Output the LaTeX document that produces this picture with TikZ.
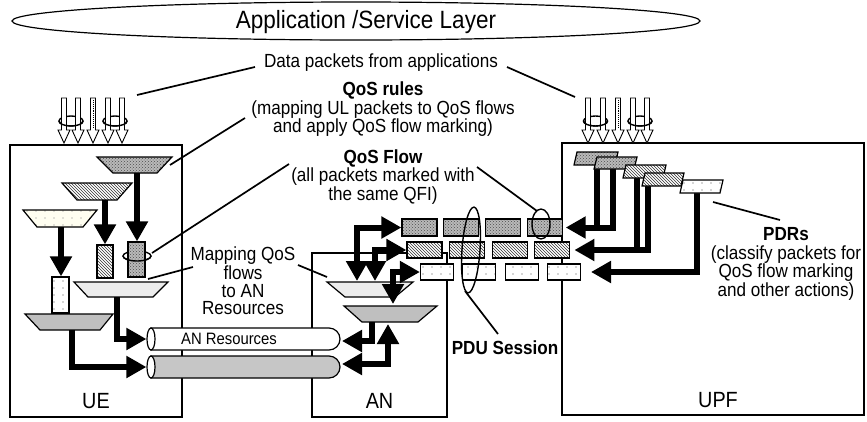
\documentclass[tikz,border=0pt]{standalone}
\usepackage{fontspec}
\setmainfont{Liberation Sans}[FakeStretch=0.9]
\usetikzlibrary{arrows.meta,patterns,shapes.geometric,positioning}
\pgfdeclarepatternformonly{sparse dots}{\pgfqpoint{-1pt}{-1pt}}{\pgfqpoint{1pt}{1pt}}{\pgfqpoint{9pt}{7pt}}{%
  \pgfpathcircle{\pgfqpoint{0pt}{0pt}}{0.7pt}\pgfusepath{fill}}
\tikzset{
  Fat/.tip={Triangle[length=20pt,width=21pt]},
  fat/.style={line width=6pt, -Fat},
  fatboth/.style={line width=6pt, Fat-Fat},
  elem/.style={draw, line width=2pt, inner sep=0pt},
  leader/.style={line width=1.7pt},
  ring/.style={line width=1.4pt},
  hollow/.style={draw, line width=0.9pt, fill=white},
  darkpat/.style={draw, line width=1.2pt, preaction={fill=gray!55}, pattern=crosshatch dots, pattern color=black!70},
  hatchpat/.style={draw, line width=1.2pt, preaction={fill=white}, pattern=north west lines, pattern color=black!80},
  dotpat/.style={draw, line width=1.2pt, preaction={fill=white}, pattern=sparse dots, pattern color=black!70},
  creampat/.style={draw, line width=1.2pt, preaction={fill=yellow!6}, pattern=sparse dots, pattern color=black!50},
  lightpat/.style={draw, line width=1.2pt, fill=gray!15},
  greypat/.style={draw, line width=1.2pt, fill=gray!50},
  packet/.style={inner sep=0pt, minimum width=35pt, minimum height=17pt},
  note/.style={align=center, inner sep=0pt, font=\fontsize{19}{18.5}\selectfont},
  boxname/.style={inner sep=0pt, font=\fontsize{22}{24}\selectfont}
}
\begin{document}
\begin{tikzpicture}[x=1pt, y=-1pt]
  \useasboundingbox (0,0) rectangle (867,421);
  % application layer
  \node[ellipse, draw, line width=1.2pt, minimum width=688pt, minimum height=38pt, inner sep=0pt] (layer) at (356,21) {};
  \node[inner sep=0pt, font=\fontsize{25}{25}\selectfont] (layername) at (366,22) {Application /Service Layer};

  % texts
  \node[note] (data) at (381,63) {Data packets from applications};
  \node[note] (rules) at (383,109.5) {\textbf{QoS rules}\\(mapping UL packets to QoS flows\\and apply QoS flow marking)};
  \node[note] (flow) at (383,177) {\textbf{QoS Flow}\\(all packets marked with\\the same QFI)};
  \node[note, font=\fontsize{19}{17.5}\selectfont] (mapping) at (243,281) {Mapping QoS\\flows\\to AN\\Resources};
  \node[note] (pdrs) at (786,264) {\textbf{PDRs}\\(classify packets for\\QoS flow marking\\and other actions)};
  \node[note, font=\bfseries\fontsize{19}{19}\selectfont] (pdu) at (505,348) {PDU Session};

  % network elements
  \node[elem, minimum width=172pt, minimum height=272pt] (ue) at (96,281) {};
  \node[elem, minimum width=135pt, minimum height=164pt] (an) at (379.5,335) {};
  \node[elem, minimum width=302pt, minimum height=272pt] (upf) at (713,279) {};
  \node[boxname, above=9pt of ue.south] (uename) {UE};
  \node[boxname, above=9pt of an.south] (anname) {AN};
  \node[boxname, above=8pt of upf.south, xshift=5pt] (upfname) {UPF};

  % UE: QoS rules
  \draw[darkpat] (97,157) -- (172,157) -- (157,173) -- (113,173) -- cycle;
  \draw[hatchpat] (62,183) -- (132,183) -- (117,200) -- (77,200) -- cycle;
  \draw[creampat] (23,210) -- (97,210) -- (83,227) -- (37,227) -- cycle;
  \coordinate (t1b) at (137,173);
  \coordinate (t2b) at (105,200);
  \coordinate (t3b) at (61,227);
  \coordinate (t1r) at (170,165);
  \draw[ring] (137,256) ellipse[x radius=14pt, y radius=5pt];
  \node[packet, darkpat, minimum width=17pt, minimum height=35pt] (ued) at (136.5,259.5) {};
  \node[packet, hatchpat, minimum width=16pt, minimum height=33pt] (ueh) at (105,261.5) {};
  \node[packet, dotpat, minimum width=17pt, minimum height=36pt] (uep) at (60.5,295) {};
  \draw[ring] (123,256) arc[start angle=180, end angle=360, x radius=14pt, y radius=5pt];
  \coordinate (ueloop) at (152,253);
  \draw[fat] (t1b) -- (t1b |- ued.north);
  \draw[fat] (t2b) -- (t2b |- ueh.north);
  \draw[fat] (t3b) -- (t3b |- uep.north);
  % UE: mapping to AN resources
  \draw[lightpat] (74,282) -- (168,282) -- (153,297) -- (88,297) -- cycle;
  \draw[greypat] (25,314) -- (113,314) -- (100,330) -- (40,330) -- cycle;
  \coordinate (mapb) at (117,297);
  \coordinate (mixb) at (72,330);
  \coordinate (mapr) at (148,279);

  % AN resources
  \draw[line width=1.2pt, fill=white] (151,328) -- (329,328) arc[start angle=90, end angle=-90, radius=11pt] -- (151,350) -- cycle;
  \draw[line width=1.2pt, fill=gray!45] (151,356) -- (329,356) arc[start angle=90, end angle=-90, radius=11pt] -- (151,378) -- cycle;
  \node[ellipse, draw, line width=1.2pt, fill=white, minimum width=8pt, minimum height=22pt, inner sep=0pt] (res1) at (151,339) {};
  \node[ellipse, draw, line width=1.2pt, fill=white, minimum width=8pt, minimum height=22pt, inner sep=0pt] (res2) at (151,367) {};
  \node[inner sep=0pt, font=\fontsize{16.5}{17}\selectfont] (anres) at (229,339) {AN Resources};
  \coordinate (res1e) at (342,341);
  \coordinate (res2e) at (342,364);
  \draw[fat] (mapb) |- (res1.west);
  \draw[fat] (mixb) |- (res2.west);

  % AN: mapping
  \draw[greypat] (344,306) -- (437,306) -- (418,322) -- (362,322) -- cycle;
  \draw[lightpat] (327,282) -- (413,282) -- (395,297) -- (345,297) -- cycle;
  \coordinate (m1) at (357,281);
  \coordinate (m2) at (375,281);
  \coordinate (m3) at (393,304);
  \coordinate (x1) at (372,322);
  \coordinate (x2) at (388,324);
  \coordinate (anmap) at (327,277);

  % PDU session: three QoS flows
  \foreach \i in {1,...,4}
    \node[packet, darkpat] (dl1-\i) at ({419.5+41.7*(\i-1)},227.5) {};
  \foreach \i in {1,...,4}
    \node[packet, hatchpat, minimum height=16pt] (dl2-\i) at ({424.5+42.6*(\i-1)},250) {};
  \foreach \i in {1,...,4}
    \node[packet, dotpat, minimum width=33pt, minimum height=16pt] (dl3-\i) at ({437+42.3*(\i-1)},272) {};

  \draw[fatboth] (m1) |- (dl1-1.west);
  \draw[fatboth] (m2) |- (dl2-1.west);
  \draw[fatboth] (m3) |- (dl3-1.west);
  \draw[fat] (x1) |- (res1e);
  \draw[fatboth] (x2) |- (res2e);

  % UPF: PDRs
  \coordinate (pdr1b) at (597,165);
  \coordinate (pdr2b) at (613,169);
  \coordinate (pdr3b) at (637,178);
  \coordinate (pdr4b) at (648,186);
  \coordinate (pdr5b) at (697,193);
  \draw[line width=6pt] (pdr1b) -- ([yshift=-3pt]pdr1b |- dl1-4.east);
  \draw[fat] (pdr2b) |- ([xshift=3pt]dl1-4.east);
  \draw[line width=6pt] (pdr3b) -- ([yshift=-3pt]pdr3b |- dl2-4.east);
  \draw[fat] (pdr4b) |- ([xshift=4pt]dl2-4.east);
  \draw[fat] (pdr5b) |- ([xshift=10pt]dl3-4.east);
  \draw[darkpat] (577,152) -- (618,152) -- (615,165) -- (574,165) -- cycle;
  \draw[darkpat] (597,157) -- (637,157) -- (634,169) -- (594,169) -- cycle;
  \draw[hatchpat] (626,165) -- (666,165) -- (663,178) -- (623,178) -- cycle;
  \draw[hatchpat] (645,173) -- (684,173) -- (681,186) -- (642,186) -- cycle;
  \draw[dotpat] (683,180) -- (723,180) -- (720,193) -- (680,193) -- cycle;
  \coordinate (pdr5l) at (713,202);

  % loops
  \coordinate (qfloop) at (541,224);
  \coordinate (pduloop) at (471,250);
  \coordinate (pdubot) at (465,291);
  \draw[ring] (qfloop) ellipse[x radius=9pt, y radius=15pt];
  \draw[ring, rotate around={-4:(pduloop)}] (pduloop) ellipse[x radius=9pt, y radius=43pt];

  % packets from applications
  \foreach \c in {71,115,595.5,640}
    \draw[ring] (\c,121) ellipse[x radius=12pt, y radius=5pt];
  \foreach \x in {64,78,93,108,122,588,603,618,633,647}
    \draw[hollow] ({\x-2.5},98) -- ({\x-2.5},130) -- ({\x-6},130) -- (\x,143) -- ({\x+6},130) -- ({\x+2.5},130) -- ({\x+2.5},98) -- cycle;
  \foreach \x in {93,618}
    \draw[densely dotted, line width=0.9pt] (\x,100) -- (\x,128);
  \foreach \c in {71,115,595.5,640}
    \draw[ring] ({\c-12},121) arc[start angle=180, end angle=360, x radius=12pt, y radius=5pt];
  \coordinate (uein) at (137,95);
  \coordinate (upfin) at (575,97);

  % leaders
  \coordinate (dataL) at (255,67);
  \coordinate (dataR) at (507,67);
  \coordinate (rulesL) at (245,118);
  \coordinate (flowL) at (289,164);
  \coordinate (flowR) at (477,167);
  \coordinate (mapL) at (193,267);
  \coordinate (mapR) at (298,265);
  \coordinate (pdrsT) at (780,220);
  \coordinate (pduT) at (498,334);
  \draw[leader] (dataL) -- (uein);
  \draw[leader] (dataR) -- (upfin);
  \draw[leader] (rulesL) -- (t1r);
  \draw[leader] (flowL) -- (ueloop);
  \draw[leader] (flowR) -- ([shift={(-4,-13)}]qfloop);
  \draw[leader] (mapL) -- (mapr);
  \draw[leader] (mapR) -- (anmap);
  \draw[leader] (pdr5l) -- (pdrsT);
  \draw[leader] (pdubot) -- (pduT);
\end{tikzpicture}
\end{document}
